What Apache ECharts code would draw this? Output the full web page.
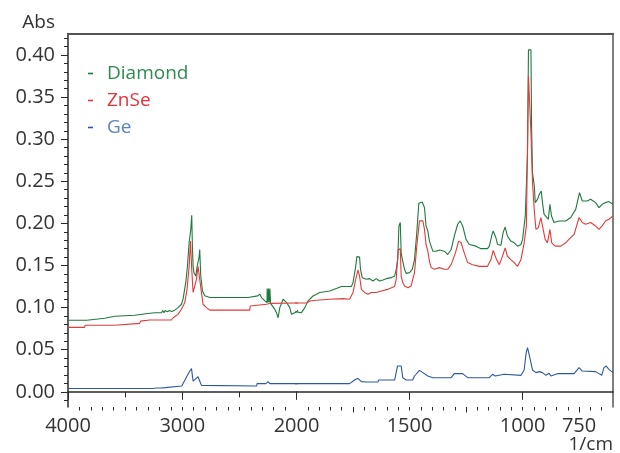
<!DOCTYPE html>
<html><head><meta charset="utf-8">
<script src="https://cdn.jsdelivr.net/npm/echarts@6/dist/echarts.min.js"></script>
<style>html,body{margin:0;padding:0;background:#fff}#c{width:620px;height:453px}</style>
</head><body><div id="c"></div>
<script>
const seriesNames = ['Diamond', 'ZnSe', 'Ge'];

const diamond = [[4000,0.085],[3835,0.085],[3827,0.0873],[3679,0.0873],[3670,0.089],[3591,0.0897],[3416,0.091],[3302,0.093],[3241,0.094],[3182,0.094],[3170,0.0965],[3160,0.094],[3150,0.0965],[3130,0.095],[3110,0.0965],[3092,0.0955],[3066,0.097],[3037,0.100],[3007,0.104],[2993,0.110],[2969,0.130],[2954,0.150],[2940,0.177],[2925,0.193],[2917,0.2096],[2911,0.172],[2905,0.149],[2897,0.141],[2882,0.1375],[2867,0.151],[2853,0.159],[2847,0.169],[2838,0.1375],[2823,0.1197],[2803,0.114],[2759,0.112],[2424,0.112],[2420,0.113],[2339,0.114],[2321,0.116],[2306,0.112],[2277,0.108],[2258,0.106],[2257,0.1226],[2252,0.1226],[2251,0.106],[2246,0.106],[2245,0.1226],[2240,0.1226],[2239,0.106],[2234,0.106],[2233,0.1226],[2228,0.1226],[2227,0.105],[2219,0.104],[2190,0.098],[2175,0.094],[2161,0.088],[2146,0.100],[2117,0.110],[2087,0.106],[2059,0.100],[2044,0.092],[2015,0.094],[2000,0.095],[1993,0.096],[1978,0.094],[1963,0.100],[1949,0.108],[1927,0.1138],[1897,0.118],[1853,0.1197],[1801,0.125],[1757,0.125],[1750,0.1297],[1738,0.149],[1733,0.1606],[1721,0.160],[1717,0.1455],[1709,0.1356],[1691,0.1336],[1677,0.1344],[1662,0.1316],[1647,0.1344],[1633,0.1316],[1618,0.1328],[1603,0.1344],[1581,0.1356],[1566,0.1375],[1559,0.1455],[1552,0.157],[1547,0.197],[1541,0.201],[1537,0.165],[1530,0.155],[1522,0.1455],[1515,0.1407],[1500,0.1416],[1488,0.1455],[1478,0.157],[1468,0.189],[1459,0.224],[1444,0.2254],[1434,0.2188],[1427,0.197],[1419,0.191],[1412,0.179],[1404,0.179],[1397,0.167],[1382,0.167],[1368,0.1685],[1346,0.167],[1331,0.163],[1316,0.169],[1302,0.185],[1287,0.199],[1276,0.203],[1265,0.197],[1250,0.181],[1236,0.175],[1206,0.173],[1184,0.170],[1155,0.170],[1147,0.173],[1135,0.187],[1130,0.191],[1118,0.183],[1111,0.175],[1096,0.174],[1086,0.189],[1077,0.1957],[1067,0.185],[1052,0.179],[1037,0.177],[1022,0.173],[1007,0.175],[1000,0.181],[988,0.209],[978,0.284],[974,0.406],[963,0.406],[960,0.312],[956,0.260],[948,0.2444],[944,0.2247],[934,0.2286],[926,0.2346],[917,0.2385],[912,0.2247],[905,0.211],[897,0.2088],[886,0.2049],[879,0.2227],[872,0.2088],[861,0.201],[839,0.2029],[809,0.2029],[787,0.207],[765,0.2167],[748,0.2366],[736,0.2266],[714,0.2266],[699,0.2286],[677,0.2247],[662,0.2188],[648,0.2227],[633,0.2247],[618,0.2259],[600,0.2227]];

const znse = [[4000,0.0766],[3854,0.0766],[3850,0.079],[3591,0.079],[3585,0.0813],[3372,0.0813],[3365,0.084],[3285,0.0853],[3095,0.0853],[3080,0.088],[3037,0.092],[3007,0.098],[2978,0.106],[2958,0.1217],[2940,0.149],[2928,0.179],[2917,0.1455],[2905,0.118],[2876,0.1336],[2862,0.149],[2847,0.1336],[2832,0.118],[2818,0.104],[2788,0.100],[2759,0.097],[2409,0.097],[2405,0.102],[2263,0.104],[2234,0.105],[2000,0.1055],[1956,0.1055],[1941,0.1078],[1912,0.1087],[1853,0.110],[1794,0.1107],[1765,0.110],[1750,0.118],[1738,0.1336],[1728,0.1447],[1721,0.1375],[1713,0.1217],[1699,0.118],[1684,0.116],[1669,0.118],[1647,0.118],[1625,0.1197],[1596,0.1217],[1566,0.125],[1559,0.1336],[1550,0.169],[1541,0.170],[1537,0.1375],[1530,0.1297],[1522,0.1257],[1507,0.1237],[1493,0.1257],[1478,0.1416],[1468,0.173],[1456,0.203],[1441,0.203],[1434,0.193],[1427,0.175],[1419,0.167],[1412,0.155],[1404,0.1475],[1390,0.1455],[1368,0.1475],[1346,0.1455],[1331,0.1455],[1316,0.151],[1297,0.165],[1283,0.179],[1272,0.177],[1258,0.165],[1243,0.1535],[1221,0.151],[1191,0.149],[1155,0.149],[1140,0.157],[1130,0.168],[1118,0.159],[1103,0.151],[1089,0.161],[1077,0.171],[1067,0.161],[1052,0.157],[1037,0.1535],[1022,0.149],[1007,0.157],[993,0.177],[983,0.197],[974,0.375],[966,0.375],[963,0.308],[956,0.248],[948,0.2147],[941,0.193],[930,0.195],[919,0.207],[912,0.197],[900,0.181],[890,0.177],[879,0.193],[871,0.177],[856,0.173],[831,0.173],[809,0.177],[795,0.181],[772,0.187],[750,0.207],[736,0.201],[721,0.199],[699,0.201],[677,0.197],[662,0.193],[648,0.197],[633,0.2029],[618,0.2049],[600,0.209]];

const ge = [[4000,0.004],[3258,0.004],[3241,0.0058],[3225,0.0045],[3214,0.006],[3200,0.0045],[3188,0.0058],[3175,0.0047],[3162,0.006],[3150,0.005],[3136,0.007],[3004,0.007],[2987,0.0085],[2958,0.0188],[2934,0.0247],[2919,0.0276],[2905,0.0128],[2890,0.0116],[2862,0.018],[2847,0.0175],[2832,0.0077],[2825,0.0069],[2350,0.0069],[2345,0.0097],[2269,0.0097],[2249,0.0121],[2234,0.0097],[1765,0.0097],[1762,0.0115],[1743,0.014],[1728,0.016],[1713,0.0121],[1691,0.0116],[1640,0.0116],[1636,0.014],[1566,0.014],[1559,0.0148],[1553,0.0307],[1537,0.0307],[1530,0.0168],[1515,0.014],[1486,0.014],[1478,0.0188],[1456,0.0255],[1441,0.0228],[1419,0.0188],[1412,0.0176],[1397,0.0168],[1316,0.0168],[1302,0.0216],[1265,0.0216],[1243,0.0168],[1147,0.0168],[1133,0.0208],[1121,0.0188],[1081,0.0208],[1074,0.0188],[1007,0.0196],[993,0.0259],[984,0.0466],[978,0.0525],[971,0.0505],[963,0.0347],[956,0.0259],[941,0.0228],[926,0.024],[912,0.0228],[897,0.0196],[883,0.022],[875,0.0188],[846,0.0216],[772,0.0216],[750,0.0287],[736,0.0247],[728,0.024],[677,0.024],[662,0.0216],[650,0.0196],[640,0.0287],[630,0.0306],[618,0.0267],[600,0.0228]];

const yLabels = [0, 0.05, 0.10, 0.15, 0.20, 0.25, 0.30, 0.35, 0.40];
const yMinorTicks = [-0.01,0.01,0.02,0.03,0.04,0.06,0.07,0.08,0.09,0.11,0.12,0.13,0.14,0.16,0.17,0.18,0.19,0.21,0.22,0.23,0.24,0.26,0.27,0.28,0.29,0.31,0.32,0.33,0.34,0.36,0.37,0.38,0.39,0.41,0.42];
const xLabelsHigh = [4000, 3000, 2000];
const xMediumHigh = [3500, 2500];
const xLabelsLow = [1500, 1000, 750];
const xMajorLow = [1500, 1000];
const xMediumLow = [1750, 1250, 750];

const xMinorHigh = []; for (let w = 3900; w > 2000; w -= 100) xMinorHigh.push(w);
const xMinorLow = []; for (let w = 1950; w > 600; w -= 50) xMinorLow.push(w);

const colors = ['#1f7a3d', '#e23a3a', '#2c58a6'];
const legendColors = ['#2e8b50', '#e8313a', '#5a83c4'];
const yMin = -0.018, yMax = 0.4255;
const FONT = 'Open Sans';
const dark = '#2a2a2a';

const chart = echarts.init(document.getElementById('c'), null, {renderer: 'canvas'});

function tickAxis(gridIndex, min, max, values, len) {
  return {
    type: 'value', gridIndex, min, max, inverse: true, position: 'bottom',
    axisLine: {show: false}, splitLine: {show: false},
    axisLabel: {show: false},
    axisTick: {show: true, customValues: values, length: len, lineStyle: {color: dark, width: 1}}
  };
}

const option = {
  animation: false,
  backgroundColor: '#fff',
  grid: [
    {left: 68, top: 33.5, width: 228.5, height: 373.5},
    {left: 296.5, top: 33.5, width: 316.5, height: 373.5}
  ],
  xAxis: [
    {type: 'value', gridIndex: 0, min: 2000, max: 4000, inverse: true, position: 'bottom',
     axisLine: {lineStyle: {color: dark, width: 1.5}}, splitLine: {show: false},
     axisTick: {customValues: xLabelsHigh, length: 8, lineStyle: {color: dark}},
     axisLabel: {customValues: xLabelsHigh, showMinLabel: true, showMaxLabel: true, fontFamily: FONT, fontSize: 20, color: '#333', margin: 9, formatter: v => String(v)}},
    tickAxis(0, 2000, 4000, xMediumHigh, 5.5),
    tickAxis(0, 2000, 4000, xMinorHigh, 3.5),
    {type: 'value', gridIndex: 0, min: 2000, max: 4000, inverse: true, position: 'top',
     axisLine: {lineStyle: {color: '#555', width: 2}}, axisTick: {show: false}, axisLabel: {show: false}, splitLine: {show: false}},
    {type: 'value', gridIndex: 1, min: 600, max: 2000, inverse: true, position: 'bottom',
     axisLine: {lineStyle: {color: dark, width: 1.5}}, splitLine: {show: false},
     axisTick: {customValues: xMajorLow, length: 8, lineStyle: {color: dark}},
     axisLabel: {customValues: xLabelsLow, showMinLabel: true, showMaxLabel: true, fontFamily: FONT, fontSize: 20, color: '#333', margin: 9, formatter: v => String(v)}},
    tickAxis(1, 600, 2000, xMediumLow, 5.5),
    tickAxis(1, 600, 2000, xMinorLow, 3.5),
    {type: 'value', gridIndex: 1, min: 600, max: 2000, inverse: true, position: 'top',
     axisLine: {lineStyle: {color: '#555', width: 2}}, axisTick: {show: false}, axisLabel: {show: false}, splitLine: {show: false}}
  ],
  yAxis: [
    {type: 'value', gridIndex: 0, min: yMin, max: yMax, position: 'left',
     axisLine: {show: true, lineStyle: {color: dark, width: 1.5}}, splitLine: {show: false},
     axisTick: {show: true, customValues: yLabels, length: 7, lineStyle: {color: dark}},
     axisLabel: {customValues: yLabels, fontFamily: FONT, fontSize: 20, color: '#333', margin: 13, formatter: v => v.toFixed(2)}},
    {type: 'value', gridIndex: 0, min: yMin, max: yMax, position: 'left',
     axisLine: {show: false}, splitLine: {show: false}, axisLabel: {show: false},
     axisTick: {show: true, customValues: yMinorTicks, length: 4, lineStyle: {color: dark}}},
    {type: 'value', gridIndex: 1, min: yMin, max: yMax, position: 'right',
     axisLine: {show: true, lineStyle: {color: '#555', width: 1.5}}, splitLine: {show: false},
     axisTick: {show: false}, axisLabel: {show: false}}
  ],
  legend: {
    orient: 'vertical', left: 83, top: 59, itemGap: 8,
    icon: 'rect', itemWidth: 5, itemHeight: 1.6,
    textStyle: {fontFamily: FONT, fontSize: 19, padding: [0, 0, 0, 9]},
    data: seriesNames.map((n, i) => ({name: n, textStyle: {color: legendColors[i]}}))
  },
  graphic: [
    {type: 'text', style: {x: 55, y: 32, text: 'Abs', textAlign: 'right', textVerticalAlign: 'bottom', fontFamily: FONT, fontSize: 19, fill: '#333'}},
    {type: 'text', style: {x: 613, y: 454, text: '1/cm', textAlign: 'right', textVerticalAlign: 'bottom', fontFamily: FONT, fontSize: 19, fill: '#333'}}
  ],
  series: []
};

const dataSets = [diamond, znse, ge];
dataSets.forEach((d, i) => {
  [[0, 0], [4, 2]].forEach(([xi, yi]) => {
    option.series.push({
      name: seriesNames[i], type: 'line', data: d, xAxisIndex: xi, yAxisIndex: yi,
      showSymbol: false, symbol: 'none', clip: true,
      color: colors[i], lineStyle: {width: 1.1, color: colors[i]}, z: 2 + i
    });
  });
});

chart.setOption(option);
</script></body></html>
